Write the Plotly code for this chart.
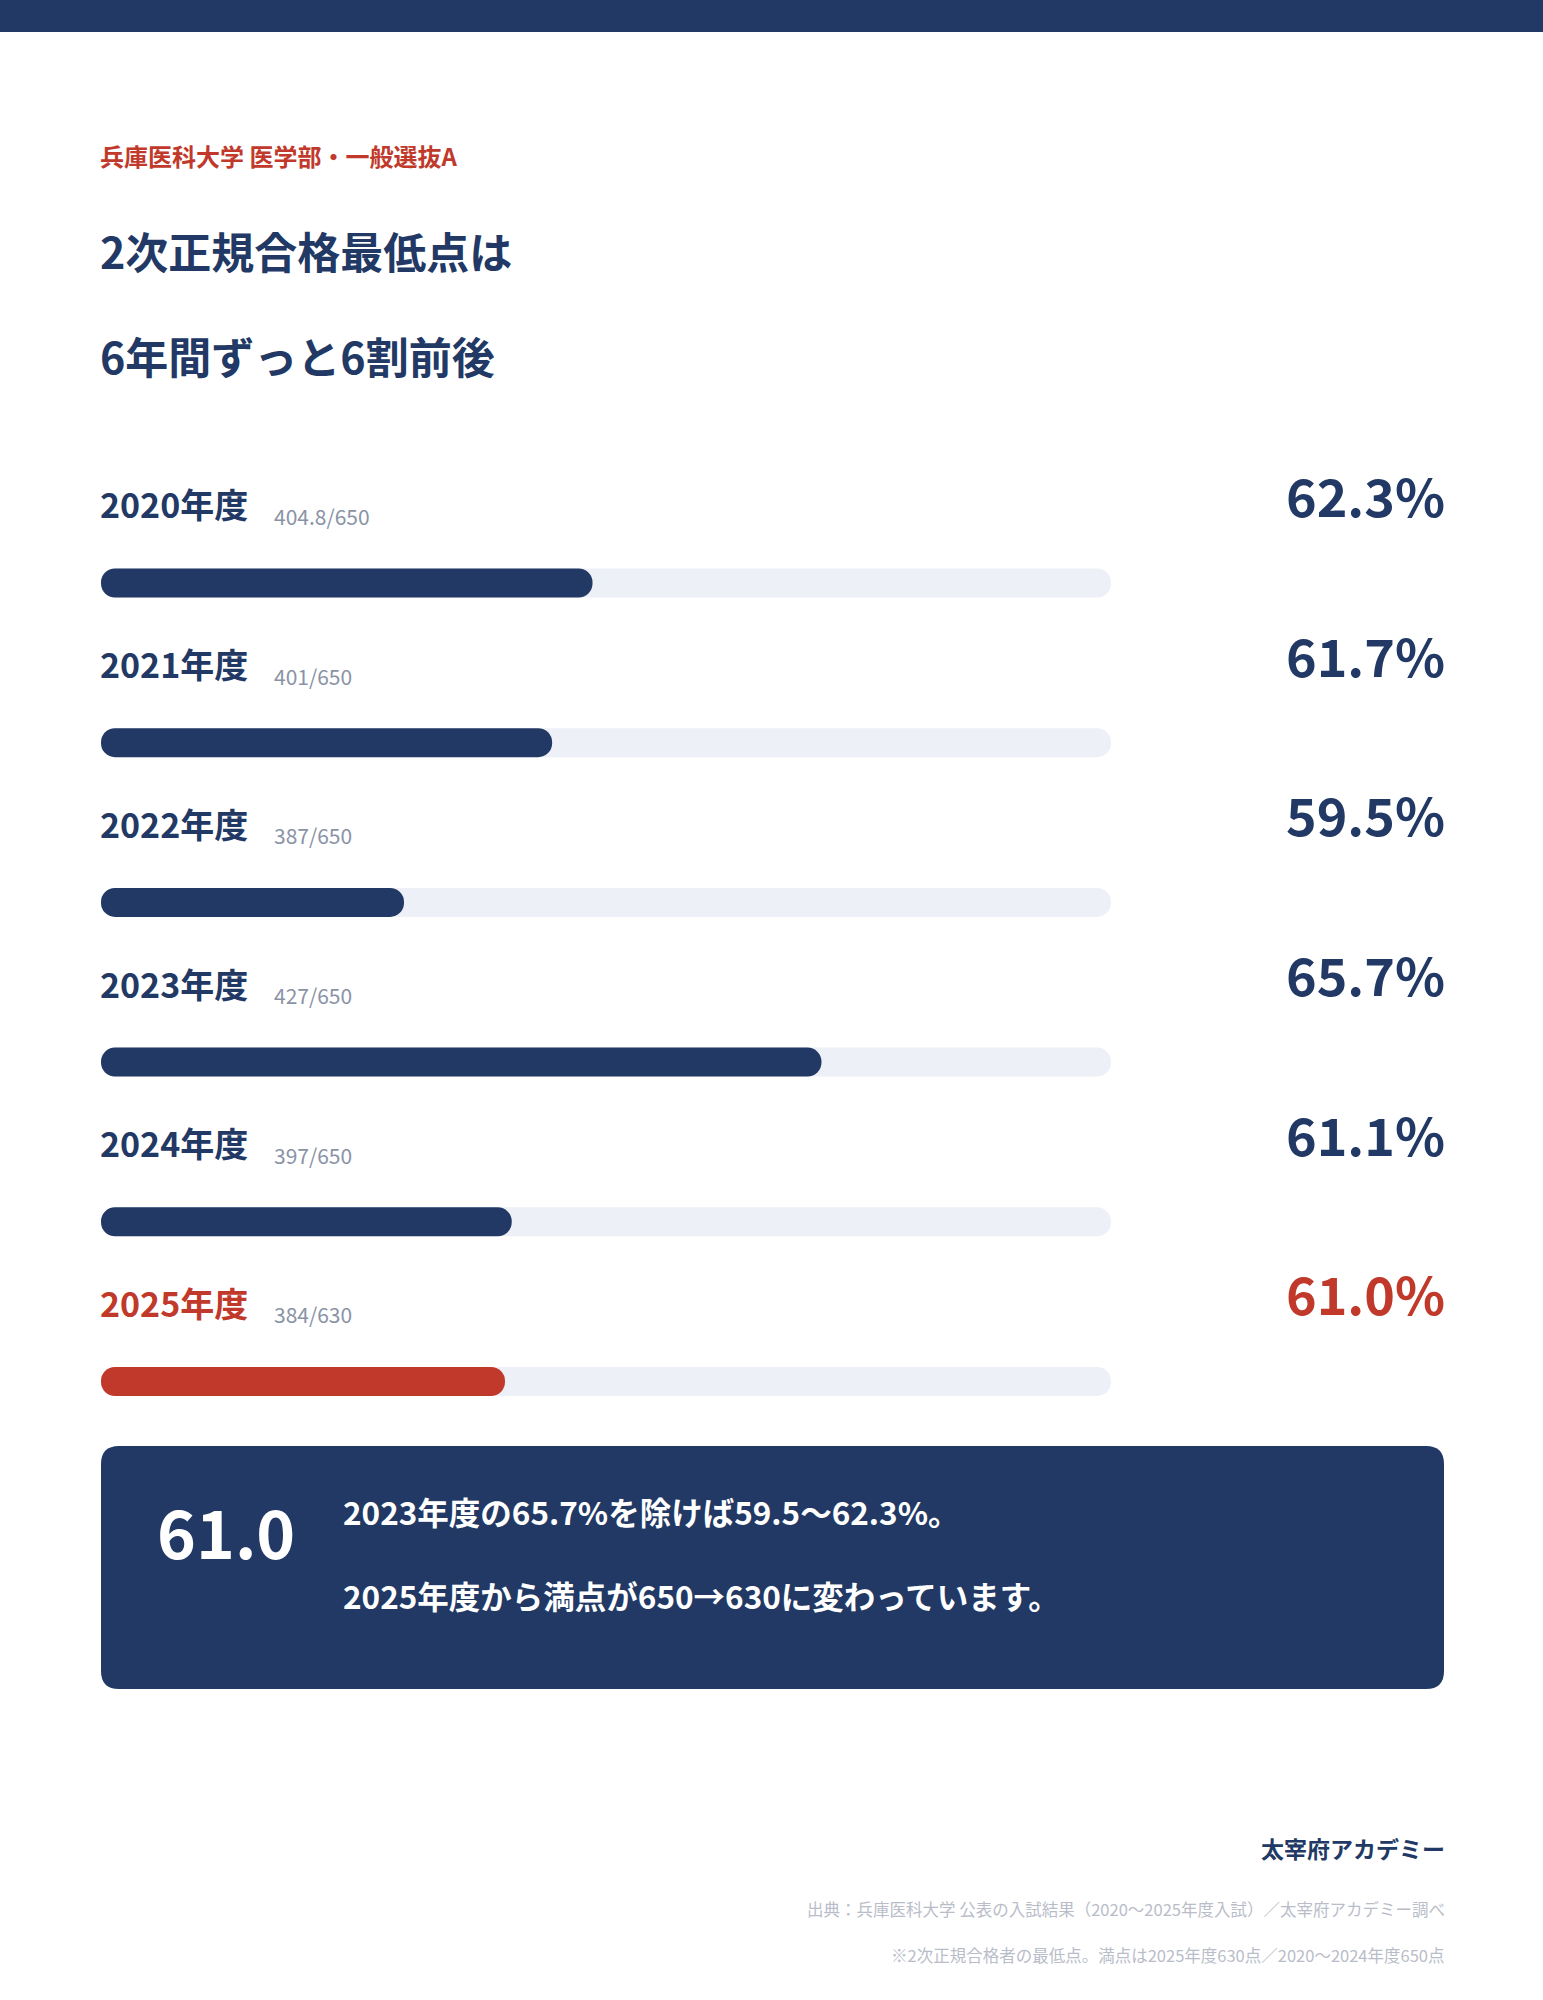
#!/usr/bin/env python3
# 兵庫医科大学 医学部・一般選抜A — 2次正規合格最低点（得点率）の推移
#
# Run:  python plot.py
# Dependencies: pip install plotly

import plotly.graph_objects as go

# ── Data ───────────────────────────────────────────────────────────────────────
years       = ["2020年度", "2021年度", "2022年度", "2023年度", "2024年度", "2025年度"]
min_scores  = ["404.8", "401", "387", "427", "397", "384"]
full_scores = [650, 650, 650, 650, 650, 630]
rates       = [62.3, 61.7, 59.5, 65.7, 61.1, 61.0]
highlight   = "2025年度"

AXIS_MIN, AXIS_MAX = 55, 70   # bar scale (%)

# ── Theme ──────────────────────────────────────────────────────────────────────
W, H    = 1543, 2000
NAVY    = "#213964"
RED     = "#c0392b"
TRACK   = "#eef0f7"
GREY    = "#8a93a6"
LIGHT   = "#b9bdc9"
WHITE   = "#ffffff"
FONT    = "Noto Sans CJK JP"

LEFT_PX, BAR_RIGHT_PX, RIGHT_PX = 101, 1111, 1444
TXT_LEFT, TXT_RIGHT = 98, 1447          # annotation boxes carry a little padding
ROW0_PX, ROW_STEP_PX = 583, 159.7       # centre of first bar, distance between rows
BAR_PX = 29


def px_x(px: float) -> float:
    return px / W


def px_y(px: float) -> float:
    return 1 - px / H


def colour(year: str) -> str:
    return RED if year == highlight else NAVY


rows = list(range(len(years)))
bar_w = BAR_PX / ROW_STEP_PX

fig = go.Figure()

# ── Tracks ────────────────────────────────────────────────────────────────────
fig.add_trace(go.Bar(
    y=rows, x=[AXIS_MAX - AXIS_MIN] * len(rows), base=[AXIS_MIN] * len(rows),
    orientation="h", width=bar_w, marker=dict(color=TRACK, cornerradius="50%", line_width=0),
    showlegend=False, hoverinfo="skip",
))

# ── Filled bars ────────────────────────────────────────────────────────────────
fig.add_trace(go.Bar(
    y=rows, x=[r - AXIS_MIN for r in rates], base=[AXIS_MIN] * len(rows),
    orientation="h", width=bar_w,
    marker=dict(color=[colour(y) for y in years], cornerradius="50%", line_width=0),
    customdata=[[y, r] for y, r in zip(years, rates)], showlegend=False,
    hovertemplate="%{customdata[0]}: %{customdata[1]:.1f}%<extra></extra>",
))

annotations = []

# ── Row labels ────────────────────────────────────────────────────────────────
for i, (yr, sc, fs, r) in enumerate(zip(years, min_scores, full_scores, rates)):
    annotations += [
        dict(text=yr, x=px_x(TXT_LEFT), y=i - 0.495, xref="paper", yref="y",
             xanchor="left", yanchor="middle", showarrow=False,
             font=dict(family=FONT, size=34, color=colour(yr), weight=700)),
        dict(text=f"{sc}/{fs}", x=px_x(272), y=i - 0.42, xref="paper", yref="y",
             xanchor="left", yanchor="middle", showarrow=False,
             font=dict(family=FONT, size=21, color=GREY)),
        dict(text=f"{r:.1f}%", x=px_x(TXT_RIGHT), y=i - 0.555, xref="paper", yref="y",
             xanchor="right", yanchor="middle", showarrow=False,
             font=dict(family=FONT, size=52, color=colour(yr), weight=700)),
    ]

# ── Headings ───────────────────────────────────────────────────────────────────
def text(t, x_px, y_px, size, color, anchor="left", bold=True):
    return dict(text=t, x=px_x(x_px), y=px_y(y_px), xref="paper", yref="paper",
                xanchor=anchor, yanchor="middle", showarrow=False,
                font=dict(family=FONT, size=size, color=color, weight=700 if bold else 400))


annotations += [
    text("兵庫医科大学 医学部・一般選抜A", TXT_LEFT, 155, 24, RED),
    text("2次正規合格最低点は", TXT_LEFT, 250, 43, NAVY),
    text("6年間ずっと6割前後", TXT_LEFT, 355, 43, NAVY),
    # summary box
    text("61.0", 155, 1530, 66, WHITE),
    text("2023年度の65.7%を除けば59.5〜62.3%。", 341, 1511, 31.5, WHITE),
    text("2025年度から満点が650→630に変わっています。", 341, 1595, 31.5, WHITE),
    # footer
    text("太宰府アカデミー", TXT_RIGHT, 1848, 23, NAVY, anchor="right"),
    text("出典：兵庫医科大学 公表の入試結果（2020〜2025年度入試）／太宰府アカデミー調べ",
         TXT_RIGHT, 1909, 16.5, LIGHT, anchor="right", bold=False),
    text("※2次正規合格者の最低点。満点は2025年度630点／2020〜2024年度650点",
         TXT_RIGHT, 1955, 16.5, LIGHT, anchor="right", bold=False),
]

# ── Decorative shapes ─────────────────────────────────────────────────────────
def rounded_rect(x0, y0, x1, y1, r):
    ax0, ax1 = px_x(x0), px_x(x1)
    ay0, ay1 = px_y(y0), px_y(y1)
    rx, ry = r / W, r / H
    return (f"M {ax0 + rx},{ay0} L {ax1 - rx},{ay0} Q {ax1},{ay0} {ax1},{ay0 - ry} "
            f"L {ax1},{ay1 + ry} Q {ax1},{ay1} {ax1 - rx},{ay1} "
            f"L {ax0 + rx},{ay1} Q {ax0},{ay1} {ax0},{ay1 + ry} "
            f"L {ax0},{ay0 - ry} Q {ax0},{ay0} {ax0 + rx},{ay0} Z")


shapes = [
    dict(type="rect", xref="paper", yref="paper", x0=0, x1=1, y0=px_y(32), y1=1,
         fillcolor=NAVY, line_width=0, layer="below"),
    dict(type="path", xref="paper", yref="paper",
         path=rounded_rect(LEFT_PX, 1446, RIGHT_PX, 1689, 18),
         fillcolor=NAVY, line_width=0, layer="below"),
]

# ── Layout ─────────────────────────────────────────────────────────────────────
fig.update_layout(
    width=W, height=H,
    margin=dict(l=0, r=0, t=0, b=0),
    paper_bgcolor=WHITE, plot_bgcolor=WHITE,
    barmode="overlay",
    font=dict(family=FONT, color=NAVY),
    xaxis=dict(domain=[px_x(LEFT_PX), px_x(BAR_RIGHT_PX)], range=[AXIS_MIN, AXIS_MAX],
               visible=False, fixedrange=True),
    yaxis=dict(domain=[0, 1],
               range=[(H - ROW0_PX) / ROW_STEP_PX, -ROW0_PX / ROW_STEP_PX],
               visible=False, fixedrange=True),
    annotations=annotations,
    shapes=shapes,
)

fig.write_html("out.html", config={"displayModeBar": False},
               post_script="document.body.style.margin='0';")
